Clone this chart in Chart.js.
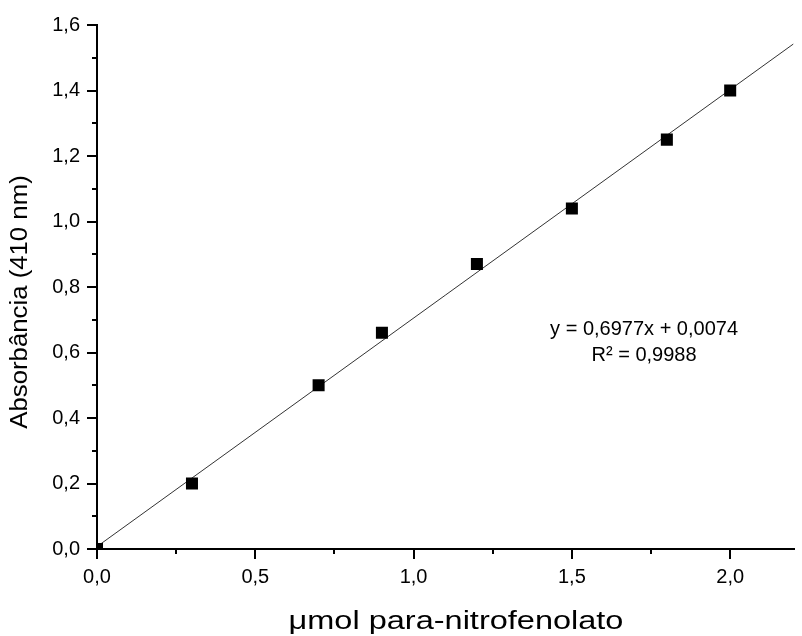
<!DOCTYPE html>
<html>
<head>
<meta charset="utf-8">
<script src="https://cdn.jsdelivr.net/npm/chart.js@4.4.0/dist/chart.umd.min.js"></script>
<style>
  html, body { margin: 0; padding: 0; background: #fff; overflow: hidden; }
  #wrap { width: 802px; height: 636px; }
  #curveChart { display: block; }
</style>
</head>
<body>
<div id="wrap"><canvas id="curveChart"></canvas></div>
<script>
// standard curve values
const micromol = [0, 0.3, 0.7, 0.9, 1.2, 1.5, 1.8, 2.0];
const absorbance = [0, 0.2, 0.5, 0.66, 0.87, 1.04, 1.25, 1.4];

// fitted line ends (y = 0,6977x + 0,0074)
const fitX = [0, 2.2];
const fitY = [0.0074, 1.5423];

const equationLines = ["y = 0,6977x + 0,0074", "R² = 0,9988"];
const xTitle = "μmol para-nitrofenolato";
const yTitle = "Absorbância (410 nm)";

const fontFamily = "'Liberation Sans', Arial, sans-serif";

function commaLabel(value) {
  return value.toFixed(1).replace(".", ",");
}

// minor ticks, axis titles and the equation text
const extrasPlugin = {
  id: "extras",
  afterDraw(chart) {
    const ctx = chart.ctx;
    const xs = chart.scales.x;
    const ys = chart.scales.y;
    ctx.save();
    ctx.strokeStyle = "#000";
    ctx.lineWidth = 2;
    ctx.beginPath();
    for (let v = 0.1; v < 1.6; v += 0.2) {
      const py = Math.round(ys.getPixelForValue(v));
      ctx.moveTo(xs.left - 5, py);
      ctx.lineTo(xs.left, py);
    }
    for (let v = 0.25; v < xs.max; v += 0.5) {
      const px = Math.round(xs.getPixelForValue(v));
      ctx.moveTo(px, ys.bottom);
      ctx.lineTo(px, ys.bottom + 5);
    }
    ctx.stroke();

    ctx.fillStyle = "#000";
    ctx.font = "20px " + fontFamily;
    ctx.textAlign = "center";
    ctx.textBaseline = "middle";
    const cx = xs.getPixelForValue(1.728);
    ctx.fillText(equationLines[0], cx, ys.getPixelForValue(0.669));
    ctx.fillText(equationLines[1], cx, ys.getPixelForValue(0.59));

    // x title, a bit wider than the plain font
    ctx.save();
    ctx.textBaseline = "alphabetic";
    ctx.font = "26px " + fontFamily;
    ctx.translate(456, chart.height - 7);
    ctx.scale(1.25, 1);
    ctx.fillText(xTitle, 0, 0);
    ctx.restore();

    // y title
    ctx.save();
    ctx.font = "23px " + fontFamily;
    ctx.translate(21, (ys.top + ys.bottom) / 2 + 15);
    ctx.rotate(-Math.PI / 2);
    ctx.scale(1.12, 1);
    ctx.fillText(yTitle, 0, 0);
    ctx.restore();

    ctx.restore();
  },
};

const ctx = document.getElementById("curveChart").getContext("2d");

new Chart(ctx, {
  type: "scatter",
  data: {
    datasets: [
      {
        label: "Padrão",
        data: micromol.map((x, i) => ({ x: x, y: absorbance[i] })),
        pointStyle: "rect",
        pointRadius: 8.5,
        pointBackgroundColor: "#000",
        pointBorderColor: "#000",
        pointBorderWidth: 0,
        showLine: false,
      },
      {
        label: "Ajuste",
        type: "line",
        data: fitX.map((x, i) => ({ x: x, y: fitY[i] })),
        borderColor: "#333",
        borderWidth: 1,
        pointRadius: 0,
        fill: false,
      },
    ],
  },
  options: {
    responsive: true,
    maintainAspectRatio: false,
    animation: false,
    layout: {
      padding: { top: 25, right: 2, left: 0, bottom: 0 },
    },
    plugins: {
      legend: { display: false },
      tooltip: { enabled: false },
    },
    scales: {
      x: {
        type: "linear",
        min: 0,
        max: 2.2,
        afterFit(scale) {
          scale.height = 87;
        },
        ticks: {
          stepSize: 0.5,
          includeBounds: false,
          color: "#000",
          padding: 6,
          font: { family: fontFamily, size: 20 },
          callback: (v) => commaLabel(v),
        },
        grid: {
          drawOnChartArea: false,
          drawTicks: true,
          tickLength: 10,
          color: "#000",
          lineWidth: 2,
        },
        border: { display: true, color: "#000", width: 2 },
      },
      y: {
        type: "linear",
        min: 0,
        max: 1.6,
        afterFit(scale) {
          scale.width = 97;
        },
        ticks: {
          stepSize: 0.2,
          color: "#000",
          padding: 7,
          font: { family: fontFamily, size: 20 },
          callback: (v) => commaLabel(v),
        },
        grid: {
          drawOnChartArea: false,
          drawTicks: true,
          tickLength: 10,
          color: "#000",
          lineWidth: 2,
        },
        border: { display: true, color: "#000", width: 2 },
      },
    },
  },
  plugins: [extrasPlugin],
});
</script>
</body>
</html>
